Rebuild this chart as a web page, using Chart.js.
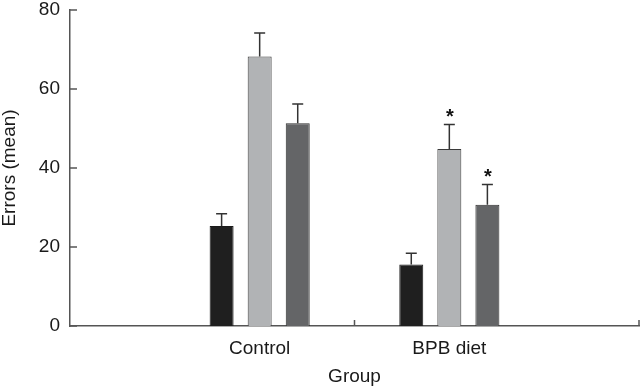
<!DOCTYPE html>
<html>
<head>
<meta charset="utf-8">
<script src="https://cdn.jsdelivr.net/npm/chart.js@4/dist/chart.umd.min.js"></script>
<style>
html,body{margin:0;padding:0;background:#fff;overflow:hidden;}
#wrap{width:640px;height:386px;position:relative;}
</style>
</head>
<body>
<div id="wrap"><canvas id="c"></canvas></div>
<script>
// ---- data ----
const categories = ['', 'Control', 'BPB diet', ''];
const seriesBlack = [null, 25.3, 15.6, null];
const seriesLight = [null, 68.2, 44.8, null];
const seriesDark  = [null, 51.3, 30.7, null];
const errBlack = [0, 3.1, 2.8, 0];
const errLight = [0, 6.0, 6.2, 0];
const errDark  = [0, 4.9, 5.1, 0];
const sigBlack = [false, false, false, false];
const sigLight = [false, false, true, false];
const sigDark  = [false, false, true, false];
const yTicks = [0, 20, 40, 60, 80];
const xBoundaryTicks = [1.5, 3];

const FONT = "'Liberation Sans', Arial, Helvetica, sans-serif";
const AXIS = '#555555';

const errorBars = {
  id: 'errorBars',
  afterDatasetsDraw(chart) {
    const ctx = chart.ctx;
    const ys = chart.scales.y;
    chart.data.datasets.forEach((ds, i) => {
      const meta = chart.getDatasetMeta(i);
      meta.data.forEach((el, j) => {
        const v = ds.data[j];
        if (v == null) return;
        const top = ys.getPixelForValue(v + ds.err[j]);
        ctx.save();
        ctx.strokeStyle = '#333333';
        ctx.lineWidth = 1.5;
        ctx.beginPath();
        ctx.moveTo(el.x, el.y);
        ctx.lineTo(el.x, top);
        ctx.moveTo(el.x - 5.5, top);
        ctx.lineTo(el.x + 5.5, top);
        ctx.stroke();
        if (ds.sig[j]) {
          ctx.fillStyle = '#111111';
          ctx.font = "bold 20px " + FONT;
          ctx.textAlign = 'center';
          ctx.textBaseline = 'middle';
          ctx.fillText('*', el.x + 0.5, top - 7);
        }
        ctx.restore();
      });
    });
  }
};

const inwardTicks = {
  id: 'inwardTicks',
  afterDraw(chart) {
    const ctx = chart.ctx;
    const xs = chart.scales.x, ys = chart.scales.y;
    ctx.save();
    ctx.strokeStyle = AXIS;
    ctx.lineWidth = 1.5;
    ctx.beginPath();
    yTicks.forEach(t => {
      const p = ys.getPixelForValue(t);
      ctx.moveTo(xs.left, p);
      ctx.lineTo(xs.left + 7, p);
    });
    xBoundaryTicks.forEach(t => {
      const p = Math.min(xs.getPixelForValue(t), chart.width - 1);
      ctx.moveTo(p, ys.bottom);
      ctx.lineTo(p, ys.bottom - 6);
    });
    ctx.stroke();
    ctx.restore();
  }
};

new Chart(document.getElementById('c'), {
  type: 'bar',
  data: {
    labels: categories,
    datasets: [
      { data: seriesBlack, err: errBlack, sig: sigBlack, backgroundColor: '#1f1f1f', borderColor: '#1a1a1a', borderWidth: 1 },
      { data: seriesLight, err: errLight, sig: sigLight, backgroundColor: '#b1b3b5', borderColor: '#3a3a3a', borderWidth: 1 },
      { data: seriesDark,  err: errDark,  sig: sigDark,  backgroundColor: '#646567', borderColor: '#2e2e2e', borderWidth: 1 }
    ]
  },
  options: {
    responsive: true,
    maintainAspectRatio: false,
    animation: false,
    events: [],
    layout: { padding: { top: 10, right: 1, bottom: 0, left: 0 } },
    datasets: { bar: { categoryPercentage: 0.602, barPercentage: 0.63, skipNull: false } },
    plugins: { legend: { display: false }, tooltip: { enabled: false } },
    scales: {
      x: {
        type: 'category',
        offset: false,
        grid: { display: false, drawTicks: false },
        border: { display: true, color: AXIS, width: 1.5 },
        ticks: { autoSkip: false, maxRotation: 0, color: '#1a1a1a', padding: 11, font: { family: FONT, size: 19 } },
        title: { display: true, text: 'Group', color: '#1a1a1a', padding: { top: 0, bottom: 0 }, font: { family: FONT, size: 19, lineHeight: 1 } },
        afterFit(s) { s.height = 60; s.paddingLeft = 0; s.paddingRight = 0; }
      },
      y: {
        min: 0, max: 80,
        grid: { display: false, drawTicks: false },
        border: { display: true, color: AXIS, width: 1.5 },
        ticks: { stepSize: 20, color: '#1a1a1a', padding: 10, font: { family: FONT, size: 19 } },
        title: { display: true, text: 'Errors (mean)', color: '#1a1a1a', padding: { top: 0, bottom: 0 }, font: { family: FONT, size: 19, lineHeight: 1 } },
        afterFit(s) { s.width = 70; s.paddingTop = 0; s.paddingBottom = 0; }
      }
    }
  },
  plugins: [errorBars, inwardTicks]
});
</script>
</body>
</html>
